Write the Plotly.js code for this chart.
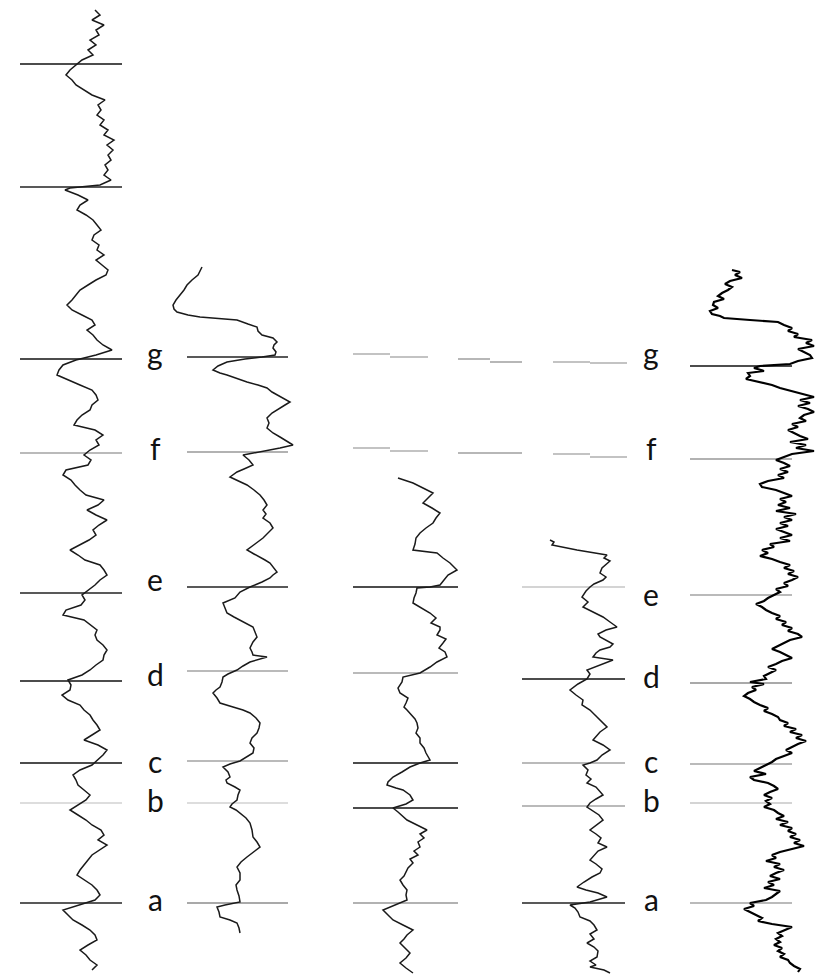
<!DOCTYPE html>
<html>
<head>
<meta charset="utf-8">
<script src="https://cdn.plot.ly/plotly-3.0.1.min.js"></script>
<style>html,body{margin:0;padding:0;background:#fff;}#chart{width:825px;height:974px;}</style>
</head>
<body>
<div id="chart"></div>
<script>
// ---------- Well 1 ----------
const well1Depth = [10,15,20,25,30,35,40,45,50,55,60,65,70,75,80,85,90,95,100,105,110,115,120,125,130,135,140,145,150,155,160,165,170,175,180,185,188,190,195,200,205,210,215,220,225,230,235,240,245,250,255,260,265,270,275,280,285,290,295,300,305,310,315,320,325,330,335,340,345,350,355,360,365,370,375,380,385,390,395,400,405,410,415,420,425,430,435,440,445,450,455,460,465,470,475,480,485,490,495,500,505,510,515,520,525,530,535,540,545,550,555,560,565,570,575,580,585,590,595,600,605,610,615,620,625,630,635,640,645,650,655,660,665,670,675,680,685,690,695,700,705,710,715,720,725,730,735,740,745,750,755,760,765,770,775,780,785,790,795,800,805,810,815,820,825,830,835,840,845,850,855,860,865,870,875,880,885,890,895,900,905,910,915,920,925,930,935,940,945,950,955,960,965,970];
const well1Log = [95,100,92,104,96,99,90,96,88,93,82,76,70,66,72,76,84,92,105,98,101,97,104,100,108,104,114,107,113,108,111,105,108,104,111,100,70,65,78,88,80,77,86,93,97,101,94,92,99,97,104,96,102,108,106,96,88,80,76,72,67,72,82,92,95,87,93,97,103,112,96,76,63,59,57,68,80,92,96,98,92,90,82,77,74,95,103,96,99,90,84,91,88,66,63,71,75,80,86,104,98,87,96,107,99,93,96,89,80,70,78,85,100,104,107,100,95,88,82,85,81,66,63,84,91,97,95,97,103,107,104,103,96,90,82,68,71,70,62,68,80,84,90,93,97,100,92,84,98,107,103,97,92,80,73,76,78,84,90,86,78,70,78,86,92,101,104,98,107,100,92,88,84,80,77,84,92,97,100,95,80,63,68,73,82,90,95,97,88,80,86,90,97,92];
const well1Marks = [64,187,359,453,593,681,763,803,903];

// ---------- Well 2 ----------
const well2Depth = [267,271,275,280,285,290,295,300,305,309,
 312,315,317,319,320,324,327,331,335,338,
 342,345,348,352,355,357,359,362,366,370,
 373,375,379,382,385,388,392,395,399,402,
 405,408,413,418,423,428,433,437,441,445,
 448,452,455,460,465,469,472,477,481,485,
 490,495,500,505,510,514,518,523,528,533,
 538,544,550,554,557,560,563,568,572,575,
 578,582,587,592,598,603,608,613,617,620,
 624,627,632,637,642,648,652,655,657,660,
 662,666,670,674,677,682,687,690,693,698,
 703,707,710,713,718,723,728,733,738,743,
 748,753,757,761,764,767,772,777,780,783,
 787,790,795,800,804,807,810,813,818,823,
 830,837,842,847,852,857,862,867,873,880,
 885,890,896,902,905,907,912,917,920,923,
 928,933];
const well2Log = [42,40,38,32,27,24,20,16,13,14,
 17,28,40,60,77,88,97,98,102,113,
 117,114,113,116,115,102,85,67,58,53,
 60,67,78,87,98,107,112,117,124,130,
 125,120,112,107,109,107,113,120,127,133,
 120,100,83,89,93,84,77,70,79,87,
 94,100,104,107,103,106,103,110,113,108,
 103,95,87,94,100,105,110,114,117,113,
 110,102,90,80,75,63,65,67,74,80,
 88,93,95,97,93,90,92,93,107,98,
 90,83,77,68,63,62,60,56,53,57,
 60,73,83,90,96,100,99,97,92,90,
 94,93,86,80,70,63,68,70,66,67,
 75,80,78,77,72,70,76,80,86,90,
 92,93,97,100,93,87,81,77,80,80,
 76,77,79,80,65,57,59,60,70,77,
 79,80];
const well2Marks = [357,452,587,671,761,803,903];

// ---------- Well 3 ----------
const well3Depth = [478,481,483,488,493,498,503,508,513,518,
 523,528,533,538,544,550,553,558,563,570,
 575,580,585,587,588,593,598,603,608,613,
 618,623,627,630,635,639,643,648,652,657,
 662,667,673,677,682,688,693,698,703,707,
 710,715,719,723,728,733,738,743,748,753,
 757,760,763,767,772,777,782,785,788,790,
 795,800,804,808,812,816,820,825,830,834,
 838,842,847,851,855,859,863,868,872,876,
 880,885,890,895,900,903,907,910,915,920,
 925,930,935,939,943,948,953,958,963,968,
 973];
const well3Log = [58,66,73,83,93,88,83,92,100,96,
 93,86,80,76,75,73,97,103,110,117,
 108,104,100,90,77,76,74,73,82,90,
 96,91,100,100,97,106,103,99,105,107,
 97,90,80,63,62,58,60,68,66,64,
 67,72,75,77,78,76,80,80,84,86,
 88,90,80,70,62,53,48,47,56,63,
 70,73,66,53,58,62,67,77,87,80,
 84,78,80,74,78,70,73,68,66,64,
 60,63,67,66,67,60,50,43,48,53,
 63,73,67,64,60,65,70,66,60,66,
 73];
const well3Marks = [587,673,763,808,903];

// ---------- Well 4 ----------
const well4Depth = [540,542,545,550,555,558,561,563,568,573,
 577,580,584,587,591,597,602,607,612,617,
 622,627,630,634,637,641,644,647,650,653,
 657,660,664,667,670,674,679,684,690,695,
 700,705,710,717,722,727,732,736,740,745,
 750,755,760,763,765,770,775,779,783,787,
 791,795,799,803,807,811,815,820,825,830,
 834,838,843,847,851,856,860,864,869,873,
 877,882,887,890,893,897,900,902,905,908,
 912,917,921,925,930,934,939,943,947,951,
 957,961,965,967,970,973];
const well4Log = [40,44,42,67,97,94,100,98,92,90,
 96,93,84,80,76,72,78,73,83,93,
 100,107,96,88,90,97,103,100,90,86,
 83,103,93,85,77,80,77,68,60,66,
 73,72,80,87,92,97,90,86,83,93,
 100,92,87,80,73,78,76,81,77,86,
 90,93,86,80,77,83,89,93,86,80,
 86,91,88,97,88,84,80,86,92,90,
 82,74,67,76,88,97,88,80,60,65,
 68,70,80,84,87,80,84,77,84,88,
 87,80,86,80,94,100];
const well4Marks = [587,679,763,806,903];

// ---------- Well 5 ----------
const well5Depth = [270,272,275,278,281,284,287,290,293,296,
 299,302,305,308,311,314,316,318,320,322,
 325,328,331,334,337,340,343,346,349,352,
 355,358,361,364,366,368,371,373,376,379,
 382,385,388,391,394,397,400,403,406,409,
 412,415,418,421,424,427,430,433,436,439,
 442,445,448,451,454,457,460,463,466,469,
 472,475,478,481,484,487,490,493,496,499,
 502,505,508,511,514,517,520,523,526,529,
 532,535,538,541,544,547,550,553,556,559,
 562,565,568,571,574,577,580,583,586,589,
 592,595,598,601,604,607,610,613,616,619,
 622,625,628,631,634,637,640,643,646,649,
 652,655,658,661,664,667,670,673,676,679,
 682,684,687,690,693,696,699,702,705,708,
 711,714,717,720,723,726,729,732,735,738,
 741,744,747,750,753,756,759,762,765,768,
 771,774,777,780,783,786,789,792,795,798,
 801,804,807,810,813,816,819,822,825,828,
 831,834,837,840,843,846,849,852,855,858,
 861,864,867,870,873,876,879,882,885,888,
 891,894,897,900,903,906,909,912,915,918,
 921,924,927,930,933,936,939,942,945,948,
 951,954,957,960,963,966,969,972];
const well5Log = [52,60,55,62,50,45,52,48,42,38,
 44,34,33,38,30,32,40,44,70,98,
 104,112,108,118,114,132,126,134,118,124,
 130,132,118,110,80,74,84,68,70,66,
 80,92,100,112,124,134,120,130,118,128,
 134,124,120,126,112,118,108,114,120,128,
 110,126,116,134,112,104,96,104,110,100,
 108,98,104,88,80,82,96,104,112,100,
 106,98,110,96,116,104,112,100,108,96,
 104,112,100,110,90,94,82,88,80,92,
 100,110,104,114,108,118,112,104,108,96,
 100,94,88,84,76,82,86,92,100,96,
 106,102,112,108,118,122,110,104,98,92,
 100,106,112,102,96,88,96,90,84,86,
 70,84,72,76,68,64,70,74,80,88,
 84,92,98,100,108,104,116,110,122,116,
 126,118,112,106,112,104,96,92,86,80,
 74,86,70,74,88,94,98,90,84,92,
 86,90,84,94,98,104,96,108,100,112,
 108,116,110,120,114,124,112,100,92,96,
 86,100,94,104,96,90,100,88,94,84,
 100,96,92,86,70,74,64,70,76,82,
 78,92,112,104,98,102,96,100,94,102,
 98,104,100,108,110,114,120,118];
const well5Marks = [366,459,595,683,764,803,903];

// ---------- Correlation labels ----------
const horizonNames = ['a','b','c','d','e','f','g'];
const leftLabelDepth  = [903,804,765,678,583,452,357];
const rightLabelDepth = [903,804,765,680,598,452,357];

// dashed correlation lines for horizons g and f across wells 3-4 (depth at each end of each dash)
const gDashDepth = [[354,354],[357,357],[359,359],[362,362],[362,362],[363,363]];
const fDashDepth = [[448,448],[451,451],[453,453],[453,453],[454,454],[457,457]];

// ---------- styles / positions (layout only) ----------
const wells = [
  {ax:'x',  dom:[0,140],   w:140, depth:well1Depth, log:well1Log, marks:well1Marks, mkX:[20,122],
   mkColor:['#111','#222','#111','#777','#222','#111','#111','#bbb','#222'], lw:1.5, color:'#1a1a1a'},
  {ax:'x2', dom:[160,305], w:145, depth:well2Depth, log:well2Log, marks:well2Marks, mkX:[27,128],
   mkColor:['#222','#666','#222','#777','#777','#bbb','#555'], lw:1.5, color:'#1a1a1a'},
  {ax:'x3', dom:[340,480], w:140, depth:well3Depth, log:well3Log, marks:well3Marks, mkX:[13,118],
   mkColor:['#111','#777','#111','#111','#666'], lw:1.5, color:'#1a1a1a'},
  {ax:'x4', dom:[510,650], w:140, depth:well4Depth, log:well4Log, marks:well4Marks, mkX:[12,115],
   mkColor:['#aaa','#111','#777','#777','#222'], lw:1.5, color:'#1a1a1a'},
  {ax:'x5', dom:[680,825], w:145, depth:well5Depth, log:well5Log, marks:well5Marks, mkX:[10,112],
   mkColor:['#111','#666','#777','#555','#777','#aaa','#777'], lw:2.2, color:'#000'}
];
const dashX = [[353,390],[390,428],[458,490],[490,522],[553,590],[590,627]];
const fDashX = [[353,390],[390,428],[458,490],[490,522],[553,590],[590,627]];
const W = 825, H = 974;

const traces = [];
const layout = {
  width: W, height: H,
  margin: {l:0, r:0, t:0, b:0, pad:0},
  paper_bgcolor: '#ffffff',
  plot_bgcolor: 'rgba(0,0,0,0)',
  showlegend: false,
  yaxis: {range:[H,0], visible:false, domain:[0,1], fixedrange:true},
  annotations: []
};

wells.forEach((wl, i) => {
  const axName = i === 0 ? 'xaxis' : 'xaxis' + (i+1);
  layout[axName] = {domain:[wl.dom[0]/W, wl.dom[1]/W], range:[0, wl.w], visible:false, fixedrange:true, anchor:'y'};
  wl.marks.forEach((d, k) => {
    const c = wl.mkColor[k];
    const dark = (c === '#111' || c === '#222');
    traces.push({type:'scatter', mode:'lines', xaxis:wl.ax, yaxis:'y',
      x:[wl.mkX[0], wl.mkX[1]], y:[d, d],
      line:{color:c, width: dark ? 1.7 : 1.2}, hoverinfo:'skip'});
  });
  traces.push({type:'scatter', mode:'lines', xaxis:wl.ax, yaxis:'y',
    x:wl.log, y:wl.depth, line:{color:wl.color, width:wl.lw}, hoverinfo:'skip'});
});

// overlay axis spanning full width for correlation dashes and labels
layout.xaxis6 = {domain:[0,1], range:[0,W], visible:false, fixedrange:true, anchor:'y'};
dashX.forEach((xs, k) => {
  traces.push({type:'scatter', mode:'lines', xaxis:'x6', yaxis:'y',
    x:xs, y:gDashDepth[k], line:{color:'#888', width:1.2}, hoverinfo:'skip'});
});
fDashX.forEach((xs, k) => {
  traces.push({type:'scatter', mode:'lines', xaxis:'x6', yaxis:'y',
    x:xs, y:fDashDepth[k], line:{color:'#888', width:1.2}, hoverinfo:'skip'});
});

const labelFont = {family:'Lato, "Open Sans", sans-serif', size:30, color:'#111'};
horizonNames.forEach((nm, k) => {
  layout.annotations.push({xref:'x6', yref:'y', x:155, y:leftLabelDepth[k], text:nm,
    showarrow:false, xanchor:'center', yanchor:'middle', yshift:4, font:labelFont});
  layout.annotations.push({xref:'x6', yref:'y', x:651, y:rightLabelDepth[k], text:nm,
    showarrow:false, xanchor:'center', yanchor:'middle', yshift:4, font:labelFont});
});

Plotly.newPlot('chart', traces, layout, {staticPlot:true, displayModeBar:false});
</script>
</body>
</html>
